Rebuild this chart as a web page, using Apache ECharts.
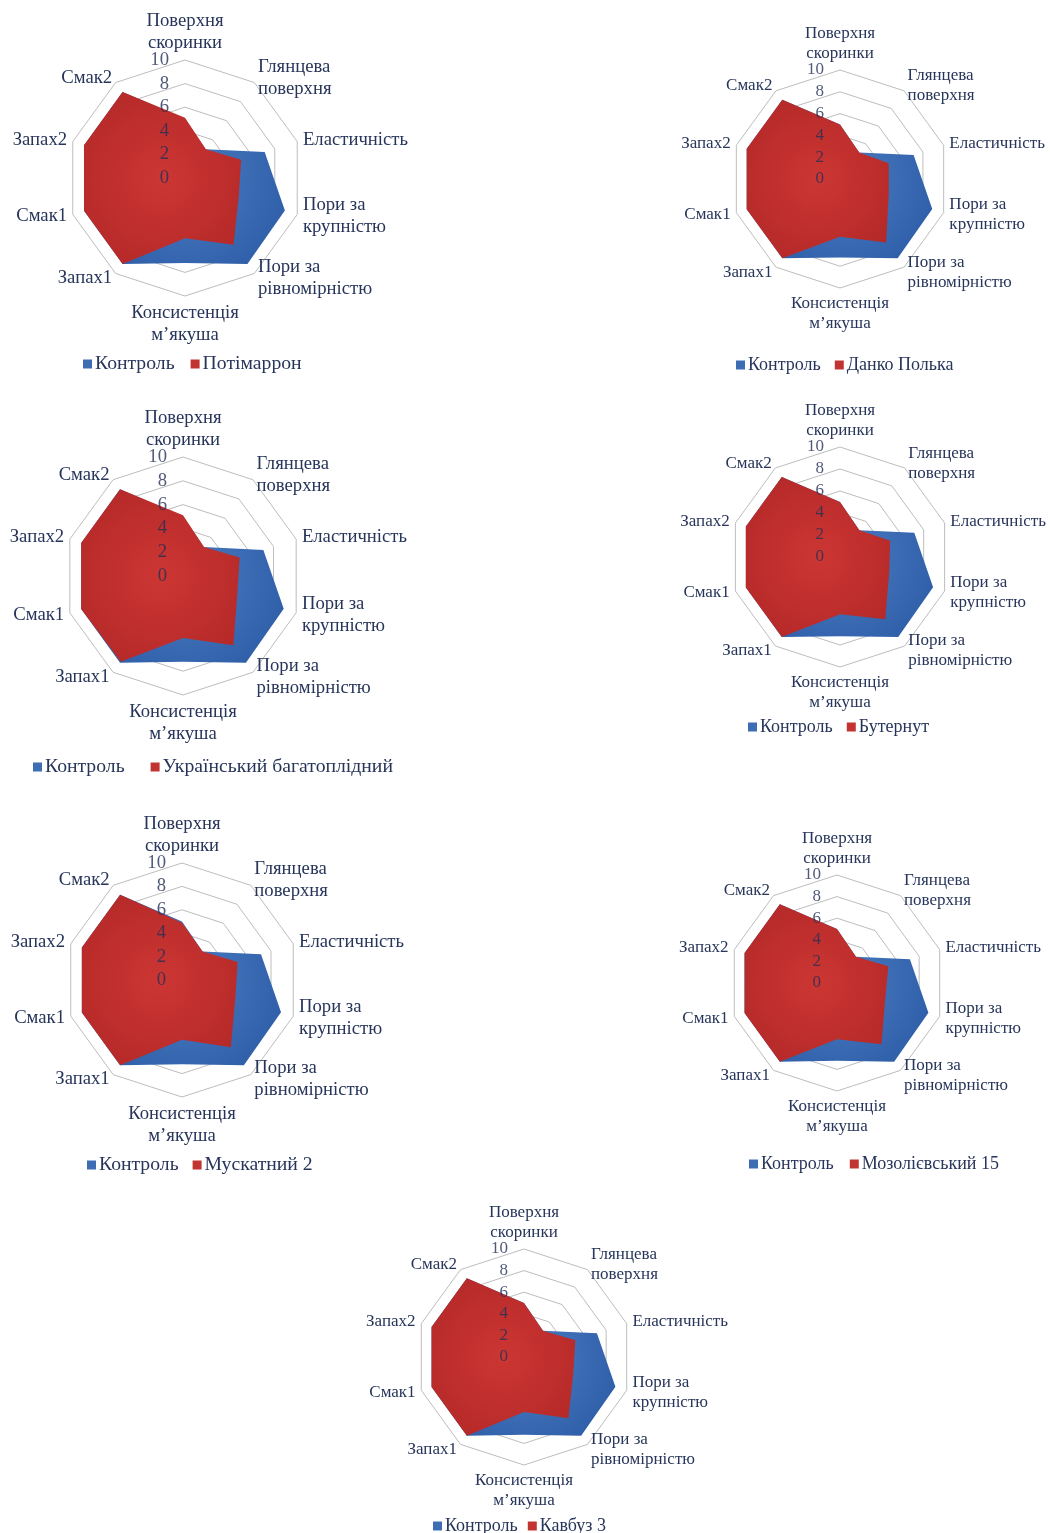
<!DOCTYPE html>
<html>
<head>
<meta charset="utf-8">
<script src="https://cdn.jsdelivr.net/npm/echarts@6/dist/echarts.min.js"></script>
<style>
  body { margin: 0; background: #fff; }
  #main { width: 1050px; height: 1533px; }
</style>
</head>
<body>
<div id="main"></div>
<script>
// показники (за годинниковою стрілкою від верху)
var indicatorNames = ['Поверхня\nскоринки', 'Глянцева\nповерхня', 'Еластичність', 'Пори за\nкрупністю',
    'Пори за\nрівномірністю', 'Консистенція\nм’якуша', 'Запах1', 'Смак1', 'Запах2', 'Смак2'];
var tickMax = 10;
var tickStep = 2;

var kontrol = [5, 3, 7.1, 8.9, 9, 7.2, 9, 9, 9, 9];

var potimarron = [5.1, 3, 5, 4.8, 7, 5.1, 9, 9, 9, 9];
var dankoPolka = [5, 3, 4.7, 4.7, 7.2, 5.3, 9, 9, 9, 9];
var ukrBagatoplidnyi = [5.1, 3, 5, 4.8, 7.2, 5.2, 8.9, 9, 9, 9];
var buternut = [5, 3, 4.8, 4.7, 7, 5.2, 9, 9, 9, 9];
var muskatnyi2 = [4.9, 3, 5, 4.8, 7.1, 5.1, 9, 9, 9, 9];
var mozolievskyi15 = [5, 3, 5, 4.7, 7, 5.2, 9, 9, 9, 9];
var kavbuz3 = [5, 3, 5, 4.8, 7, 5.1, 9, 9, 9, 9];

var sortNames = ['Потімаррон', 'Данко Полька', 'Український багатоплідний', 'Бутернут',
    'Мускатний 2', 'Мозолієвський 15', 'Кавбуз 3'];
var sortValues = [potimarron, dankoPolka, ukrBagatoplidnyi, buternut, muskatnyi2, mozolievskyi15, kavbuz3];

// розміщення діаграм на сторінці
var layout = [
    { center: [185, 178], radius: 118, font: 18.7, legend: [78, 349], gap: 16 },
    { center: [840, 179], radius: 109, font: 17, legend: [731, 351], gap: 14 },
    { center: [183, 576], radius: 119, font: 18.7, legend: [28, 752], gap: 26 },
    { center: [840, 557], radius: 110, font: 17, legend: [743, 713], gap: 14 },
    { center: [182, 980], radius: 117, font: 18.7, legend: [82, 1150], gap: 14 },
    { center: [837, 983], radius: 108, font: 17, legend: [744, 1150], gap: 16 },
    { center: [524, 1357], radius: 108, font: 17, legend: [428, 1512], gap: 10 }
];

var textColor = '#27355a';
var serif = '"Liberation Serif", "DejaVu Serif", serif';

// echarts малює осі проти годинникової стрілки, тому перевертаємо порядок
function clockwise(arr) {
    var out = [arr[0]];
    for (var i = arr.length - 1; i > 0; i--) out.push(arr[i]);
    return out;
}

var radars = [], series = [], legends = [];

for (var s = 0; s < sortNames.length; s++) {
    var l = layout[s];
    var names = clockwise(indicatorNames);

    radars.push({
        center: l.center,
        radius: l.radius,
        startAngle: 90,
        splitNumber: tickMax / tickStep,
        shape: 'polygon',
        nameGap: 6,
        axisName: { color: textColor, fontFamily: serif, fontSize: l.font, lineHeight: Math.round(l.font * 1.2) },
        axisLine: { show: false },
        axisTick: { show: false },
        axisLabel: { show: false },
        splitLine: { lineStyle: { color: '#bdbdbd', width: 1 } },
        splitArea: { show: false },
        indicator: names.map(function (n) { return { name: n, min: 0, max: tickMax }; })
    });

    // окремий радар лише для підписів шкали, поверх заливки
    radars.push({
        center: l.center,
        radius: l.radius,
        startAngle: 90,
        splitNumber: tickMax / tickStep,
        shape: 'polygon',
        z: 10,
        axisName: { show: false },
        axisLine: { show: false },
        axisTick: { show: false },
        axisLabel: { show: false },
        splitLine: { show: false },
        splitArea: { show: false },
        indicator: names.map(function (n, k) {
            var ind = { name: '', min: 0, max: tickMax };
            if (k === 0) {
                ind.axisLabel = {
                    show: true, color: 'rgba(36,48,88,0.8)', fontFamily: serif,
                    fontSize: l.font, margin: 16
                };
            }
            return ind;
        })
    });

    series.push({
        type: 'radar',
        radarIndex: s * 2,
        symbol: 'none',
        silent: true,
        data: [
            {
                name: 'Контроль',
                value: clockwise(kontrol),
                lineStyle: { width: 0 },
                itemStyle: { color: '#3d6db3' },
                areaStyle: {
                    opacity: 1,
                    color: new echarts.graphic.RadialGradient(0.5, 0.5, 0.7, [
                        { offset: 0, color: '#4a7cc2' },
                        { offset: 1, color: '#2c5ca6' }
                    ])
                }
            },
            {
                name: sortNames[s],
                value: clockwise(sortValues[s]),
                lineStyle: { width: 0 },
                itemStyle: { color: '#c23432' },
                areaStyle: {
                    opacity: 1,
                    color: new echarts.graphic.RadialGradient(0.5, 0.5, 0.7, [
                        { offset: 0, color: '#cc3633' },
                        { offset: 1, color: '#b22827' }
                    ])
                }
            }
        ]
    });

    legends.push({
        data: ['Контроль', sortNames[s]],
        left: l.legend[0],
        top: l.legend[1],
        orient: 'horizontal',
        icon: 'rect',
        itemWidth: 9,
        itemHeight: 9,
        itemGap: l.gap,
        selectedMode: false,
        textStyle: { color: textColor, fontFamily: serif, fontSize: l.font + 1, padding: [0, 0, 0, -2] }
    });
}

var myChart = echarts.init(document.getElementById('main'));
myChart.setOption({
    backgroundColor: '#ffffff',
    animation: false,
    radar: radars,
    legend: legends,
    series: series
});
</script>
</body>
</html>
